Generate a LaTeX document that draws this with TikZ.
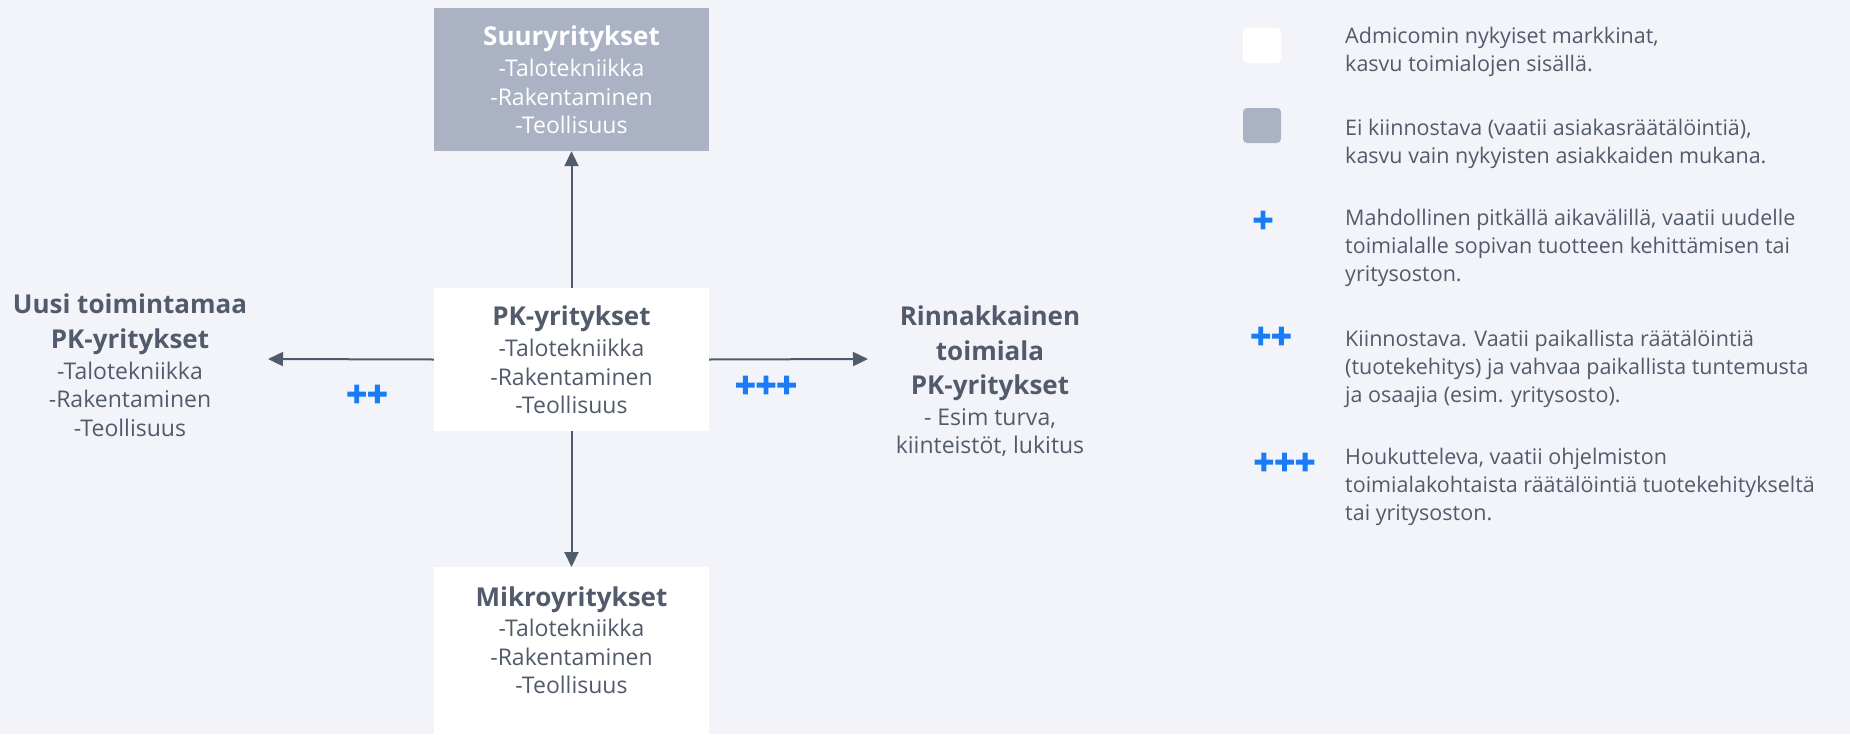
\documentclass[tikz,border=0pt]{standalone}
\usepackage{fontspec}
\setmainfont{Open Sans}
\newfontfamily\plusfont{Open Sans}[FakeBold=3]
\usetikzlibrary{arrows.meta,positioning}
\definecolor{bgcol}{HTML}{F3F4F9}
\definecolor{txtcol}{HTML}{525B6B}
\definecolor{greybox}{HTML}{ABB2C4}
\definecolor{plusblue}{HTML}{1A7BF7}
\newcommand{\boxtitle}[1]{{\bfseries\fontsize{26}{28.5}\selectfont #1}}

\begin{document}
\begin{tikzpicture}[
    x=1pt, y=-1pt,
    box/.style={minimum width=275pt, minimum height=143pt, inner sep=0pt, align=center, font=\fontsize{23}{28.5}\selectfont},
    box white/.style={box, fill=white, text=txtcol},
    box grey/.style={box, fill=greybox, text=white},
    side txt/.style={align=center, text=txtcol, font=\fontsize{23}{28.5}\selectfont},
    legend txt/.style={anchor=west, align=left, inner sep=0pt, text=txtcol, font=\fontsize{21.5}{28.3}\selectfont},
    legend key/.style={rounded corners=4pt, minimum width=38pt, minimum height=35pt, inner sep=0pt},
    plus/.style={text=plusblue, inner sep=0pt, font=\plusfont\bfseries\fontsize{36}{36}\selectfont},
    arrow/.style={draw=txtcol, line width=2pt, -{Triangle[length=15pt,width=14pt]}}
]
    \fill[bgcol] (0,0) rectangle (1850,734);
    \useasboundingbox (0,0) rectangle (1850,734);

    % Boxes
    \node[box grey] (suur) at (571.5,79.5) {\boxtitle{Suuryritykset}\\[3pt]-Talotekniikka\\-Rakentaminen\\-Teollisuus};
    \node[box white] (pk) at (571.5,359.5) {\boxtitle{PK-yritykset}\\[3pt]-Talotekniikka\\-Rakentaminen\\-Teollisuus};
    \node[box white, minimum height=190pt, anchor=north] (mikro) at (571.5,567) {};
    \node[side txt] (mikrotxt) at (571.5,640) {\boxtitle{Mikroyritykset}\\[2pt]-Talotekniikka\\-Rakentaminen\\-Teollisuus};

    % Side texts
    \node[side txt] (uusi) at (130,365) {\boxtitle{Uusi toimintamaa}\\[7pt]\boxtitle{PK-yritykset}\\[2pt]-Talotekniikka\\-Rakentaminen\\-Teollisuus};
    \node[side txt] (rinn) at (990,381.5) {\boxtitle{Rinnakkainen}\\[6pt]\boxtitle{toimiala}\\[6pt]\boxtitle{PK-yritykset}\\[2pt]- Esim turva,\\kiinteistöt, lukitus};
    \coordinate (uusiend) at (268,359);
    \coordinate (rinnend) at (868,359);

    % Arrows
    \draw[arrow] (pk.north) -- (suur.south);
    \draw[arrow] (pk.south) -- (mikro.north);
    \draw[arrow] (pk.west) -- (uusiend);
    \draw[arrow] (pk.east) -- (rinnend);
    \node[plus] (pp) at (367,396) {++};
    \node[plus] (ppp) at (766,387) {+++};

    % Legend
    \node[legend key, fill=white] (keywhite) at (1262,45.5) {};
    \node[legend key, fill=greybox] (keygrey) at (1262,125.5) {};
    \node[plus] (key1) at (1263,222) {+};
    \node[plus] (key2) at (1271,338) {++};
    \node[plus] (key3) at (1284.5,464) {+++};
    \node[legend txt] (txtwhite) at (1345,52) {Admicomin nykyiset markkinat,\\kasvu toimialojen sisällä.};
    \node[legend txt] (txtgrey) at (1345,144) {Ei kiinnostava (vaatii asiakasräätälöintiä),\\kasvu vain nykyisten asiakkaiden mukana.};
    \node[legend txt] (txt1) at (1345,248) {Mahdollinen pitkällä aikavälillä, vaatii uudelle\\toimialalle sopivan tuotteen kehittämisen tai\\yritysoston.};
    \node[legend txt] (txt2) at (1345,369) {Kiinnostava. Vaatii paikallista räätälöintiä\\(tuotekehitys) ja vahvaa paikallista tuntemusta\\ja osaajia (esim. yritysosto).};
    \node[legend txt] (txt3) at (1345,487) {Houkutteleva, vaatii ohjelmiston\\toimialakohtaista räätälöintiä tuotekehitykseltä\\tai yritysoston.};
\end{tikzpicture}
\end{document}
